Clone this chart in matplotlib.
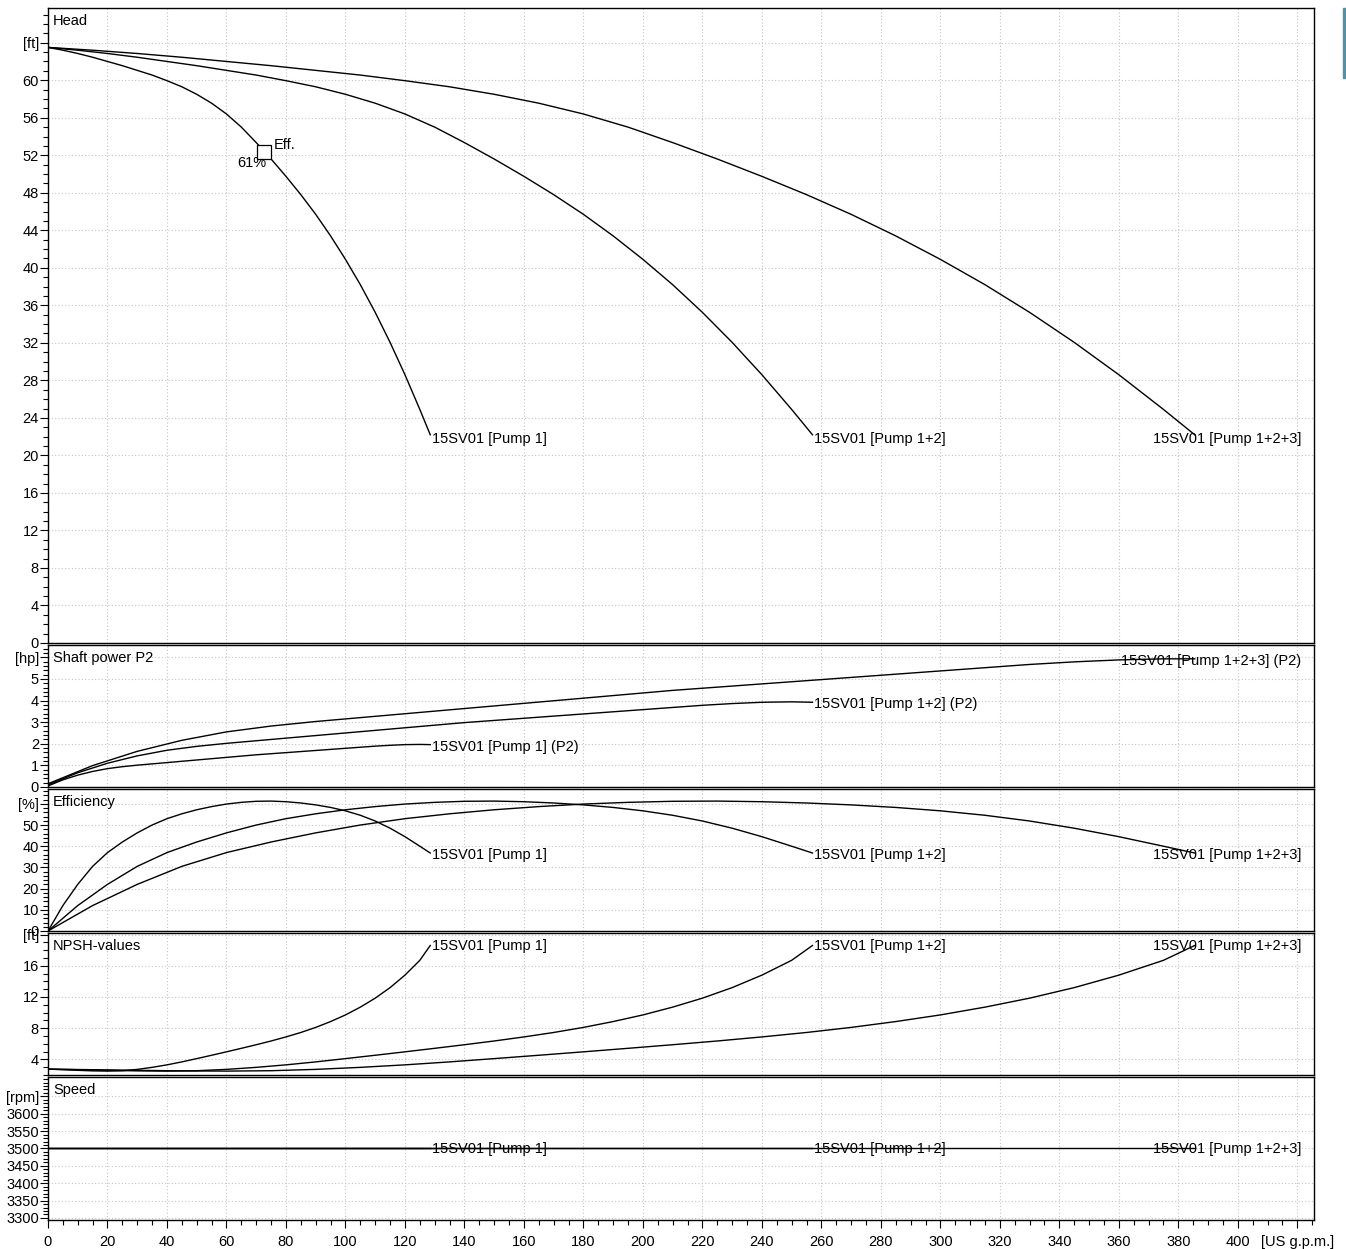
import numpy as np
import matplotlib
matplotlib.use("Agg")
import matplotlib.pyplot as plt
from matplotlib.ticker import MultipleLocator, FixedLocator, FixedFormatter
from matplotlib.patches import Rectangle
import matplotlib.transforms as mtransforms

plt.rcParams['font.family'] = ['Liberation Sans', 'DejaVu Sans']
plt.rcParams['font.size'] = 10.5

# flow values (US g.p.m.) for each pump combination
q1 = [0, 5, 10, 15, 20, 25, 30, 35, 40, 45, 50, 55, 60, 65, 70, 75, 80, 85, 90, 95,
      100, 105, 110, 115, 120, 125, 128.5]
q2 = [0, 10, 20, 30, 40, 50, 60, 70, 80, 90, 100, 110, 120, 130, 140, 150, 160, 170,
      180, 190, 200, 210, 220, 230, 240, 250, 257]
q3 = [0, 15, 30, 45, 60, 75, 90, 105, 120, 135, 150, 165, 180, 195, 210, 225, 240,
      255, 270, 285, 300, 315, 330, 345, 360, 375, 385.5]

# head [ft] (same head values for the parallel combinations, at their own flows)
head = [63.5, 63.2, 62.85, 62.45, 62.0, 61.55, 61.05, 60.55, 59.95, 59.3, 58.5, 57.55,
        56.4, 55.0, 53.35, 51.6, 49.75, 47.8, 45.7, 43.4, 40.9, 38.2, 35.25, 32.05, 28.6,
        24.9, 22.2]

# shaft power P2 [hp]
p2_1 = [0.05, 0.33, 0.55, 0.72, 0.85, 0.94, 1.01, 1.07, 1.13, 1.19, 1.25, 1.31, 1.37,
        1.43, 1.49, 1.54, 1.59, 1.64, 1.69, 1.74, 1.79, 1.84, 1.89, 1.93, 1.96, 1.97, 1.96]
p2_2 = [0.1, 0.66, 1.1, 1.44, 1.7, 1.88, 2.02, 2.14, 2.26, 2.38, 2.5, 2.62, 2.74,
        2.86, 2.98, 3.08, 3.18, 3.28, 3.38, 3.48, 3.58, 3.68, 3.78, 3.86, 3.92, 3.94, 3.92]
p2_3 = [0.15, 0.99, 1.65, 2.16, 2.55, 2.82, 3.03, 3.21, 3.39, 3.57, 3.75, 3.93, 4.11,
        4.29, 4.47, 4.62, 4.77, 4.92, 5.07, 5.22, 5.37, 5.52, 5.67, 5.79, 5.88, 5.93, 5.93]

# efficiency [%]
eff = [0, 12, 22, 30.5, 37, 42, 46.3, 50, 53, 55.3, 57.2, 58.7, 59.9, 60.7, 61.2, 61.3,
       61.0, 60.4, 59.5, 58.3, 56.7, 54.6, 51.9, 48.5, 44.5, 40.0, 36.8]

# NPSH [ft]
npsh = [2.75, 2.68, 2.6, 2.53, 2.5, 2.55, 2.72, 2.98, 3.3, 3.68, 4.1, 4.53, 4.97, 5.42,
        5.88, 6.36, 6.88, 7.45, 8.1, 8.85, 9.7, 10.7, 11.85, 13.2, 14.8, 16.7, 18.6]

# speed [rpm]
speed = 3500

names = ['15SV01 [Pump 1]', '15SV01 [Pump 1+2]', '15SV01 [Pump 1+2+3]']
eff_point = (72.6, 52.4)
eff_value = '61%'

W, H = 1346, 1249
fig = plt.figure(figsize=(W / 100, H / 100), dpi=100)
LEFT, RIGHT = 48, 1314


def make_axes(top, bottom):
    return fig.add_axes([LEFT / W, 1 - bottom / H, (RIGHT - LEFT) / W, (bottom - top) / H])


panels = [
    # top, bottom, title, ylim, majors, unit, minor
    (8, 643, 'Head', (0, 67.7), list(range(0, 65, 4)), '[ft]', 1),
    (645, 787, 'Shaft power P2', (0, 6.57), list(range(0, 7)), '[hp]', 0.2),
    (789, 931, 'Efficiency', (0, 67), list(range(0, 61, 10)), '[%]', 2),
    (933, 1075, 'NPSH-values', (2.0, 20.2), [4, 8, 12, 16, 20], '[ft]', 1),
    (1077, 1220, 'Speed', (3294, 3706), list(range(3300, 3651, 50)), '[rpm]', 10),
]

axes = []
for i, (top, bottom, title, ylim, majors, unit, minor) in enumerate(panels):
    ax = make_axes(top, bottom)
    ax.set_xlim(0, 425.6)
    ax.set_ylim(*ylim)
    ax.yaxis.set_major_locator(FixedLocator(majors))
    labels = [str(m) for m in majors[:-1]] + [unit]
    ax.yaxis.set_major_formatter(FixedFormatter(labels))
    ax.yaxis.set_minor_locator(MultipleLocator(minor))
    ax.xaxis.set_major_locator(FixedLocator(list(range(0, 421, 20))))
    ax.xaxis.set_minor_locator(MultipleLocator(5))
    ax.grid(True, which='major', color='#c4c4c4', linestyle=(0, (1, 2)), linewidth=0.8)
    ax.tick_params(axis='y', which='major', length=5.5, width=0.8, pad=1, direction='out')
    ax.tick_params(axis='y', which='minor', length=3.6, width=0.8, direction='out')
    for sp in ax.spines.values():
        sp.set_linewidth(1.0)
    if i < len(panels) - 1:
        ax.tick_params(axis='x', which='both', bottom=False, labelbottom=False)
    else:
        ax.xaxis.set_major_formatter(FixedFormatter([str(v) for v in range(0, 401, 20)] + ['[US g.p.m.]']))
        ax.tick_params(axis='x', which='major', length=5.5, width=0.8, pad=5)
        ax.tick_params(axis='x', which='minor', length=3.6, width=0.8)
    ax.annotate(title, xy=(0, 1), xycoords='axes fraction', xytext=(5, -13),
                textcoords='offset pixels', va='center', ha='left')
    axes.append(ax)

ax_h, ax_p, ax_e, ax_n, ax_s = axes

series = [
    (ax_h, [head, head, head], '', -4),
    (ax_p, [p2_1, p2_2, p2_3], ' (P2)', -2),
    (ax_e, [eff, eff, eff], '', -2),
    (ax_n, [npsh, npsh, npsh], '', -1),
    (ax_s, [[speed] * len(q1), [speed] * len(q2), [speed] * len(q3)], '', -1),
]

flows = [q1, q2, q3]
for ax, ys, suffix, dy in series:
    for k in range(3):
        ax.plot(flows[k], ys[k], color='black', linewidth=1.0)
        label = names[k] + suffix
        if k < 2:
            ax.annotate(label, xy=(flows[k][-1], ys[k][-1]), xytext=(2, dy),
                        textcoords='offset pixels', va='center', ha='left')
        else:
            trans = mtransforms.blended_transform_factory(ax.transAxes, ax.transData)
            ax.annotate(label, xy=(0.9897, ys[k][-1]), xycoords=trans, xytext=(0, dy),
                        textcoords='offset pixels', va='center', ha='right')

# best efficiency point marker
ax_h.plot([eff_point[0]], [eff_point[1]], marker='s', markersize=9.4, markerfacecolor='white',
          markeredgecolor='black', markeredgewidth=0.9, zorder=5)
ax_h.annotate('Eff.', xy=eff_point, xytext=(10, 7), textcoords='offset pixels', va='center', ha='left')
ax_h.annotate(eff_value, xy=eff_point, xytext=(2, -11), textcoords='offset pixels', va='center', ha='right')

fig.patches.append(Rectangle((1343 / W, 1 - 78 / H), 3 / W, 70 / H, transform=fig.transFigure,
                             color='#4f93a6'))

fig.savefig('out.png', dpi=100)
